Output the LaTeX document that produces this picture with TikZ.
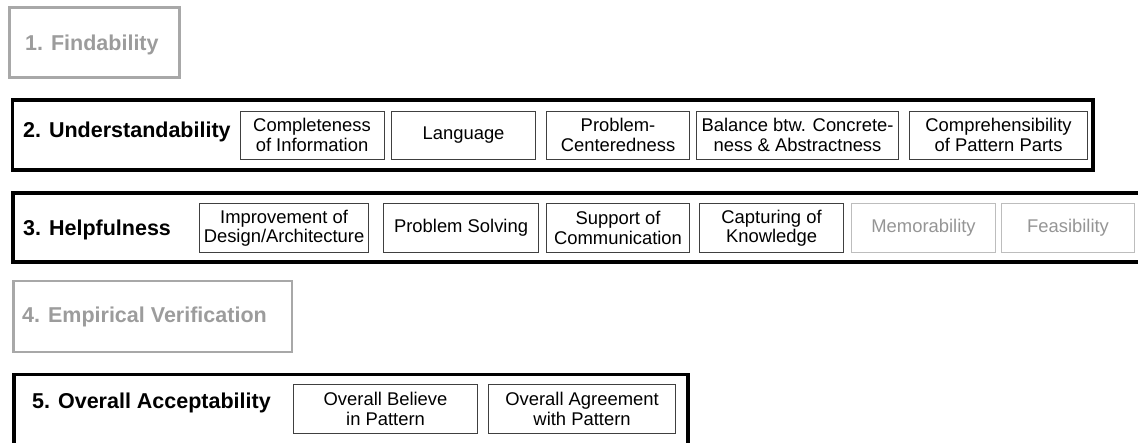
\documentclass[tikz,border=0pt]{standalone}
\usepackage{fontspec}
\setmainfont{Liberation Sans}
\definecolor{framegray}{HTML}{A8A8A8}
\definecolor{titlegray}{HTML}{9C9C9C}
\definecolor{itemline}{HTML}{404040}
\definecolor{dimline}{HTML}{BDBDBD}
\definecolor{dimtext}{HTML}{959595}
\begin{document}
\begin{tikzpicture}[x=1pt,y=-1pt,
  group/.style={draw=black, line width=3.5pt, anchor=north west, inner sep=0pt},
  dimgroup/.style={group, draw=framegray, line width=2.5pt},
  grouptitle/.style={anchor=base west, inner sep=0pt,
    font=\fontsize{21.5}{24}\selectfont\bfseries},
  dimtitle/.style={grouptitle, text=titlegray},
  item/.style={draw=itemline, line width=1.1pt, anchor=north west, inner sep=0pt,
    align=center, font=\fontsize{18.4}{19.5}\selectfont},
  dimitem/.style={item, draw=dimline, text=dimtext}]
\useasboundingbox (0,0) rectangle (1138,442);
\clip (0,0) rectangle (1138,442);

% 1. Findability
\node[dimgroup, minimum width=170pt, minimum height=70pt] (g1) at (8,6) {};
\node[dimtitle] (t1) at (25,50.7) {1. Findability};

% 2. Understandability
\node[group, minimum width=1080.5pt, minimum height=70pt] (g2) at (10.5,98) {};
\node[grouptitle] (t2) at (23,137.3) {2. Understandability};
\node[item, minimum width=144pt, minimum height=48pt] (u1) at (239.5,110.5) {Completeness\\of Information};
\node[item, minimum width=144pt, minimum height=48pt] (u2) at (391,110.5) {Language};
\node[item, minimum width=143pt, minimum height=48pt] (u3) at (546,110.5) {Problem-\\Centeredness};
\node[item, minimum width=202pt, minimum height=48pt] (u4) at (696,110.5) {Balance btw. Concrete-\\ness \& Abstractness};
\node[item, minimum width=178pt, minimum height=48pt] (u5) at (909,110.5) {Comprehensibility\\of Pattern Parts};

% 3. Helpfulness (frame runs past the right edge)
\node[group, minimum width=1150pt, minimum height=69pt] (g3) at (11,191) {};
\node[grouptitle] (t3) at (23,235) {3. Helpfulness};
\node[item, minimum width=169pt, minimum height=49pt] (h1) at (199,203) {Improvement of\\Design/Architecture};
\node[item, minimum width=155pt, minimum height=49pt] (h2) at (383,203) {Problem Solving};
\node[item, minimum width=143pt, minimum height=49pt] (h3) at (546,203) {Support of\\Communication};
\node[item, minimum width=144pt, minimum height=49pt] (h4) at (699,203) {Capturing of\\Knowledge};
\node[dimitem, minimum width=144pt, minimum height=49pt] (h5) at (851,203) {Memorability};
\node[dimitem, minimum width=133pt, minimum height=49pt] (h6) at (1001,203) {Feasibility};

% 4. Empirical Verification
\node[dimgroup, minimum width=278.5pt, minimum height=71pt] (g4) at (12,279.5) {};
\node[dimtitle] (t4) at (22,322) {4. Empirical Verification};

% 5. Overall Acceptability (frame runs past the bottom edge)
\node[group, minimum width=674pt, minimum height=100pt] (g5) at (12,372.5) {};
\node[grouptitle] (t5) at (32,408) {5. Overall Acceptability};
\node[item, minimum width=184pt, minimum height=49pt] (a1) at (293,384) {Overall Believe\\in Pattern};
\node[item, minimum width=187pt, minimum height=49pt] (a2) at (488,384) {Overall Agreement\\with Pattern};
\end{tikzpicture}
\end{document}
